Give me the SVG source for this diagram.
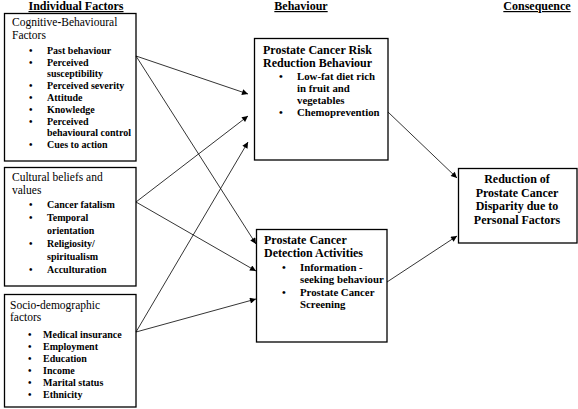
<svg xmlns="http://www.w3.org/2000/svg" width="578" height="409" viewBox="0 0 578 409" font-family="'Liberation Serif', 'DejaVu Serif', serif">
<style>
.box{fill:#fff;stroke:#000;stroke-width:1.3}
text{font-family:'Liberation Serif','DejaVu Serif',serif;fill:#000}
.hd{font-size:12px;font-weight:bold;text-decoration:underline;text-anchor:middle}
.t{font-size:11.5px}
.b{font-size:10px;font-weight:bold}
.bt{font-size:12px;font-weight:bold}
.bb{font-size:10.8px;font-weight:bold}
.ct{text-anchor:middle}
.con line{stroke:#000;stroke-width:0.8;fill:none}
</style>
<defs>
<marker id="ah" viewBox="0 0 10 10" refX="10" refY="5" markerWidth="8" markerHeight="6" markerUnits="userSpaceOnUse" orient="auto">
<path d="M0,0 L10,5 L0,10 z" fill="#000"/>
</marker>
</defs>
<rect width="578" height="409" fill="#fff"/>
<text class="hd" x="76" y="10">Individual Factors</text>
<text class="hd" x="301" y="10">Behaviour</text>
<text class="hd" x="537" y="10">Consequence</text>

<g id="cognitive">
<rect class="box" x="4.5" y="13.5" width="131.5" height="147.5"/>
<text class="t" x="12" y="26">Cognitive<tspan font-weight="bold">-</tspan>Behavioural</text>
<text class="t" x="12" y="39">Factors</text>
<g class="b">
<text x="29" y="54">•</text><text x="47" y="54">Past behaviour</text>
<text x="29" y="66">•</text><text x="47" y="66">Perceived</text>
<text x="47" y="77">susceptibility</text>
<text x="29" y="89">•</text><text x="47" y="89">Perceived severity</text>
<text x="29" y="101">•</text><text x="47" y="101">Attitude</text>
<text x="29" y="113">•</text><text x="47" y="113">Knowledge</text>
<text x="29" y="125">•</text><text x="47" y="125">Perceived</text>
<text x="47" y="136">behavioural control</text>
<text x="29" y="148">•</text><text x="47" y="148">Cues to action</text>
</g>
</g>

<g id="cultural">
<rect class="box" x="4.5" y="167.5" width="131.5" height="118.5"/>
<text class="t" x="12" y="181">Cultural beliefs and</text>
<text class="t" x="12" y="194">values</text>
<g class="b">
<text x="29" y="208">•</text><text x="47" y="208">Cancer fatalism</text>
<text x="29" y="221">•</text><text x="47" y="221">Temporal</text>
<text x="47" y="234">orientation</text>
<text x="29" y="247">•</text><text x="47" y="247">Religiosity/</text>
<text x="47" y="260">spiritualism</text>
<text x="29" y="273">•</text><text x="47" y="273">Acculturation</text>
</g>
</g>

<g id="socio">
<rect class="box" x="4.5" y="294.5" width="131.5" height="112.5"/>
<text class="t" x="10" y="309">Socio<tspan font-weight="bold">-</tspan>demographic</text>
<text class="t" x="10" y="321">factors</text>
<g class="b">
<text x="28" y="338">•</text><text x="43" y="338">Medical insurance</text>
<text x="28" y="350">•</text><text x="43" y="350">Employment</text>
<text x="28" y="362">•</text><text x="43" y="362">Education</text>
<text x="28" y="374">•</text><text x="43" y="374">Income</text>
<text x="28" y="386">•</text><text x="43" y="386">Marital status</text>
<text x="28" y="398">•</text><text x="43" y="398">Ethnicity</text>
</g>
</g>

<g id="risk">
<rect class="box" x="254.5" y="38.5" width="133.5" height="121.5"/>
<text class="bt" x="263" y="54">Prostate Cancer Risk</text>
<text class="bt" x="263" y="67">Reduction Behaviour</text>
<g class="bb">
<text x="279" y="80">•</text><text x="297" y="80">Low-fat diet rich</text>
<text x="297" y="92">in fruit and</text>
<text x="297" y="104">vegetables</text>
<text x="279" y="116">•</text><text x="297" y="116">Chemoprevention</text>
</g>
</g>

<g id="detection">
<rect class="box" x="256.5" y="229.5" width="130.5" height="112.5"/>
<text class="bt" x="264" y="244">Prostate Cancer</text>
<text class="bt" x="264" y="257">Detection Activities</text>
<g class="bb">
<text x="282" y="271">•</text><text x="300" y="271">Information -</text>
<text x="300" y="283">seeking behaviour</text>
<text x="282" y="296">•</text><text x="300" y="296">Prostate Cancer</text>
<text x="300" y="308">Screening</text>
</g>
</g>

<g id="consequence">
<rect class="box" x="458.5" y="168.5" width="118.5" height="74.5"/>
<text class="bt ct" x="517" y="183">Reduction of</text>
<text class="bt ct" x="517" y="196.5">Prostate Cancer</text>
<text class="bt ct" x="517" y="210">Disparity due to</text>
<text class="bt ct" x="517" y="223.5">Personal Factors</text>
</g>

<g class="con" id="connectors">
<line x1="136" y1="56" x2="248" y2="94" marker-end="url(#ah)"/>
<line x1="136" y1="56" x2="256" y2="244" marker-end="url(#ah)"/>
<line x1="136" y1="202" x2="248" y2="116" marker-end="url(#ah)"/>
<line x1="136" y1="202" x2="256" y2="271" marker-end="url(#ah)"/>
<line x1="136" y1="332" x2="248" y2="142" marker-end="url(#ah)"/>
<line x1="136" y1="332" x2="256" y2="299" marker-end="url(#ah)"/>
<line x1="388" y1="112" x2="457" y2="178" marker-end="url(#ah)"/>
<line x1="387" y1="282" x2="457" y2="236" marker-end="url(#ah)"/>
</g>
</svg>
